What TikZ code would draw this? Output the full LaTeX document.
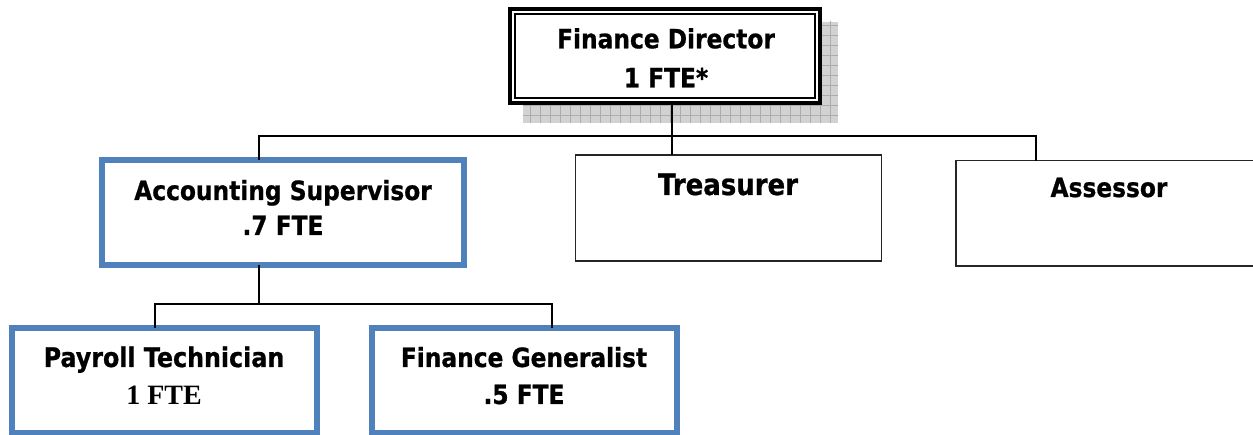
\documentclass[tikz,border=0pt]{standalone}
\usepackage{fontspec}
\newfontfamily\orgfont{DejaVu Sans}[FakeStretch=0.88, BoldFeatures={FakeBold=0.8}]
\newfontfamily\fteserif{Liberation Serif}
\usetikzlibrary{patterns.meta}
\definecolor{boxblue}{RGB}{79,129,189}

\tikzset{
  post/.style={rectangle, draw, outer sep=0pt, inner sep=0pt, fill=white},
  bluepost/.style={post, draw=boxblue, line width=6pt},
  plainpost/.style={post, draw=black!85, line width=1.2pt},
  title/.style={anchor=base, align=center, font=\orgfont\bfseries\fontsize{26.5}{35}\selectfont},
  conn/.style={line width=2pt},
}

\begin{document}
\begin{tikzpicture}[x=1pt,y=-1pt]
  \useasboundingbox (0,0) rectangle (1253,435);
  % shadow behind the director box
  \fill[gray!35] (523,22) rectangle (838,123);
  \fill[pattern={Hatch[angle=0,distance=10pt,line width=0.8pt]}, pattern color=gray!65] (523,22) rectangle (838,123);

  \node[post, line width=4pt, minimum width=310pt, minimum height=93.5pt] (dir) at (664.5,56.25) {};
  \draw[line width=2pt] ([shift={(5,5)}]dir.north west) rectangle ([shift={(-5,-5)}]dir.south east);
  % anchor=base sits on the last line
  \node[title, font=\orgfont\bfseries\fontsize{26.5}{39}\selectfont] (dir-t) at (666,87.3) {Finance Director\\1 FTE*};

  \node[bluepost, minimum width=362pt, minimum height=105.5pt] (acc) at (283,212.75) {};
  \node[title] (acc-t) at (283,235) {Accounting Supervisor\\.7 FTE};

  \node[plainpost, minimum width=306pt, minimum height=106pt] (tre) at (728.5,208) {};
  \node[title, font=\orgfont\bfseries\fontsize{29.5}{35}\selectfont] (tre-t) at (728,195) {Treasurer};

  \node[plainpost, minimum width=306pt, minimum height=105.3pt] (ass) at (1109,213.3) {};
  \node[title] (ass-t) at (1109,197) {Assessor};

  \node[bluepost, minimum width=305pt, minimum height=104.7pt] (pay) at (164,380.65) {};
  \node[title, font=\orgfont\bfseries\fontsize{27}{38}\selectfont] (pay-t) at (164,405)
    {Payroll Technician\\{\fteserif\bfseries\fontsize{28}{38}\selectfont 1 FTE}};

  \node[bluepost, minimum width=305pt, minimum height=104.7pt] (gen) at (524,380.65) {};
  \node[title, font=\orgfont\bfseries\fontsize{26.5}{37}\selectfont] (gen-t) at (524,404) {Finance Generalist\\.5 FTE};

  % junctions of the two bus lines
  \coordinate (j1) at (259,136);
  \coordinate (j2) at (671.7,136);
  \coordinate (j3) at (1035.7,136);
  \coordinate (k1) at (155,304);
  \coordinate (k2) at (258.5,304);
  \coordinate (k3) at (551.7,304);

  \draw[conn] (dir.south -| j2) -- (j2);
  \draw[conn] (acc.north -| j1) |- (j3) -- (ass.north -| j3);
  \draw[conn] (j2) -- (tre.north -| j2);
  \draw[conn] (acc.south -| k2) -- (k2);
  \draw[conn] (pay.north -| k1) |- (k3) -- (gen.north -| k3);
\end{tikzpicture}
\end{document}
